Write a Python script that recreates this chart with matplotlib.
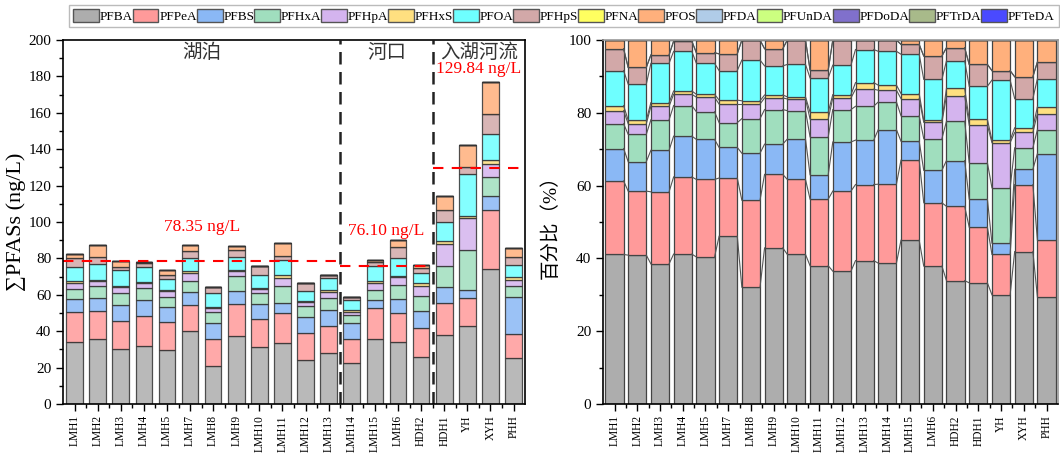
import numpy as np
import matplotlib
matplotlib.use('Agg')
import matplotlib.pyplot as plt
from matplotlib.patches import Patch

plt.rcParams['font.family'] = ['Liberation Serif', 'Noto Sans CJK SC', 'DejaVu Sans']
plt.rcParams['axes.unicode_minus'] = False

sites = ['LMH1', 'LMH2', 'LMH3', 'LMH4', 'LMH5', 'LMH7', 'LMH8', 'LMH9', 'LMH10',
         'LMH11', 'LMH12', 'LMH13', 'LMH14', 'LMH15', 'LMH6', 'HDH2',
         'HDH1', 'YH', 'XYH', 'PHH']

# total PFASs per site, ng/L
total = [82.4, 87.6, 78.4, 77.9, 73.5, 87.6, 64.3, 86.7, 75.7, 88.5, 66.5, 71.1,
         58.8, 79.0, 90.0, 76.6,
         114.5, 142.2, 177.0, 85.66]

# composition of each sample, % of total
pct_PFBA = [41.1, 40.9, 38.5, 41.2, 40.4, 46.1, 32.1, 42.9, 41.1, 38.0, 36.5, 39.4,
            38.7, 45.0, 37.9, 33.9, 33.3, 30.0, 41.9, 29.4]
pct_PFPeA = [20.2, 17.6, 19.8, 21.2, 21.3, 16.0, 23.9, 20.2, 20.6, 18.3, 22.0, 20.9,
             21.7, 22.0, 17.4, 20.4, 15.3, 11.1, 18.4, 15.6]
pct_PFBS = [8.9, 8.1, 11.4, 11.2, 11.0, 8.4, 12.9, 8.3, 11.1, 6.7, 13.5, 12.2,
            15.0, 5.2, 8.9, 12.6, 7.7, 3.1, 4.2, 23.8]
pct_PFHxA = [6.8, 7.5, 8.4, 8.4, 7.6, 6.8, 9.5, 9.5, 7.8, 10.4, 8.9, 9.3,
             7.6, 7.0, 8.7, 10.8, 10.0, 15.2, 5.9, 6.6]
pct_PFHpA = [3.6, 2.9, 3.7, 3.1, 4.0, 5.1, 4.0, 3.2, 3.2, 4.9, 3.2, 4.7,
             3.2, 4.7, 4.5, 7.0, 10.3, 12.4, 4.2, 4.4]
pct_PFHxS = [1.4, 1.0, 1.0, 0.9, 0.8, 1.1, 0.9, 0.8, 0.6, 1.9, 0.9, 1.8,
             1.4, 1.4, 0.6, 2.0, 1.6, 0.7, 1.3, 1.9]
pct_PFOA = [9.6, 9.9, 10.8, 10.9, 8.5, 8.1, 11.2, 8.0, 8.9, 9.4, 8.1, 9.1,
            9.3, 10.8, 11.2, 7.6, 9.1, 16.5, 8.0, 7.7]
pct_PFHpS = [6.0, 4.6, 2.3, 2.8, 2.9, 4.6, 5.5, 4.7, 6.7, 2.2, 6.9, 2.6,
             3.1, 2.7, 6.4, 3.6, 6.0, 2.6, 6.0, 4.6]
pct_PFNA = [0.0] * 20
pct_PFOS = [2.4, 7.5, 4.1, 0.3, 3.5, 3.8, 0.0, 2.4, 0.0, 8.2, 0.0, 0.0,
            0.0, 1.2, 4.4, 2.1, 6.7, 8.4, 10.1, 6.0]
pct_PFDA = [0.0] * 20
pct_PFUnDA = [0.0] * 20
pct_PFDoDA = [0.0] * 20
pct_PFTrDA = [0.0] * 20
pct_PFTeDA = [0.0] * 20

compounds = ['PFBA', 'PFPeA', 'PFBS', 'PFHxA', 'PFHpA', 'PFHxS', 'PFOA', 'PFHpS',
             'PFNA', 'PFOS', 'PFDA', 'PFUnDA', 'PFDoDA', 'PFTrDA', 'PFTeDA']
colors = ['#ADADAD', '#FF9A9A', '#8AB8F5', '#A0DEBE', '#D4B4EE', '#FFE080',
          '#6EFFFF', '#D2A8A8', '#FFFF60', '#FFB07C', '#B0CCE8', '#CCFF80',
          '#8070CC', '#A8BA8A', '#4A4AFF']
pct = np.array([pct_PFBA, pct_PFPeA, pct_PFBS, pct_PFHxA, pct_PFHpA, pct_PFHxS,
                pct_PFOA, pct_PFHpS, pct_PFNA, pct_PFOS, pct_PFDA, pct_PFUnDA,
                pct_PFDoDA, pct_PFTrDA, pct_PFTeDA])
pct = pct / pct.sum(axis=0) * 100
conc = pct * np.array(total) / 100

groups = ['湖泊', '河口', '入湖河流']
group_size = [12, 4, 4]
group_mean = [78.35, 76.10, 129.84]

x = np.arange(len(sites))

fig = plt.figure(figsize=(10.6, 4.55), dpi=100)
ax1 = fig.add_axes([0.0594, 0.112, 0.436, 0.80])
ax2 = fig.add_axes([0.569, 0.112, 0.429, 0.80])

# left: stacked concentrations
bottom = np.zeros(len(sites))
for i, c in enumerate(compounds):
    ax1.bar(x, conc[i], 0.72, bottom=bottom, color=colors[i], alpha=0.85,
            edgecolor='#333333', linewidth=0.9)
    bottom += conc[i]

start = 0
for g, n, m in zip(groups, group_size, group_mean):
    x0, x1 = start - 0.5, start + n - 0.5
    ax1.plot([x0, x1], [m, m], color='red', ls=(0, (5, 4)), lw=1.5)
    if start > 0:
        ax1.axvline(x0, color='#222222', ls=(0, (5, 3)), lw=1.8)
    xc = (x0 + x1) / 2
    ax1.text(xc, 193, g, ha='center', va='center', fontsize=14, color='#333333')
    ytxt = m + 19 if m < 100 else 184
    ax1.text(xc, ytxt, f'{m:.2f} ng/L', ha='center', va='center',
             fontsize=12.5, color='red')
    start += n

ax1.set_xlim(-0.5, len(sites) - 0.5)
ax1.set_ylim(0, 200)
ax1.set_yticks(np.arange(0, 201, 20))
ax1.set_yticks(np.arange(10, 200, 20), minor=True)
ax1.set_ylabel('∑PFASs (ng/L)', fontsize=16, labelpad=2)

# right: composition, with lines joining the layer boundaries
w2 = 0.8
bottom = np.zeros(len(sites))
for i, c in enumerate(compounds):
    ax2.bar(x, pct[i], w2, bottom=bottom, color=colors[i],
            edgecolor='#444444', linewidth=0.9)
    bottom += pct[i]
cum = np.cumsum(pct, axis=0)
for level in cum[:-1]:
    for j in range(len(sites) - 1):
        ax2.plot([x[j] + w2 / 2, x[j + 1] - w2 / 2], [level[j], level[j + 1]],
                 color='#555555', lw=0.8)

ax2.set_xlim(-0.5, len(sites) - 0.5)
ax2.set_ylim(0, 100)
ax2.set_yticks(np.arange(0, 101, 20))
ax2.set_yticks(np.arange(10, 100, 20), minor=True)
ax2.set_ylabel('百分比（%）', fontsize=14, labelpad=6)
ax2.spines['top'].set_color('#999999')
ax2.spines['right'].set_color('#999999')

for ax in (ax1, ax2):
    ax.set_xticks(x)
    ax.set_xticklabels(sites, rotation=90, fontsize=8.3)
    ax.set_xticks(x[:-1] + 0.5, minor=True)
    ax.tick_params(axis='y', labelsize=11, direction='out', length=5, width=1)
    ax.tick_params(axis='y', which='minor', direction='out', length=3, width=1)
    ax.tick_params(axis='x', direction='out', length=5, width=1, pad=3)
    ax.tick_params(axis='x', which='minor', direction='out', length=3, width=1)
    for s in ax.spines.values():
        s.set_linewidth(1.2)

handles = [Patch(facecolor=colors[i], edgecolor='#555555', label=c)
           for i, c in enumerate(compounds)]
leg = fig.legend(handles=handles, loc='upper center', ncol=15,
                 bbox_to_anchor=(0.532, 1.0), fontsize=9.5, frameon=True,
                 fancybox=False, handlelength=1.95, handleheight=1.1,
                 handletextpad=0.05, columnspacing=0.0, borderpad=0.3,
                 borderaxespad=0.4)
leg.get_frame().set_edgecolor('#aaaaaa')
leg.get_frame().set_linewidth(1.0)

fig.savefig('out.png', dpi=100)
